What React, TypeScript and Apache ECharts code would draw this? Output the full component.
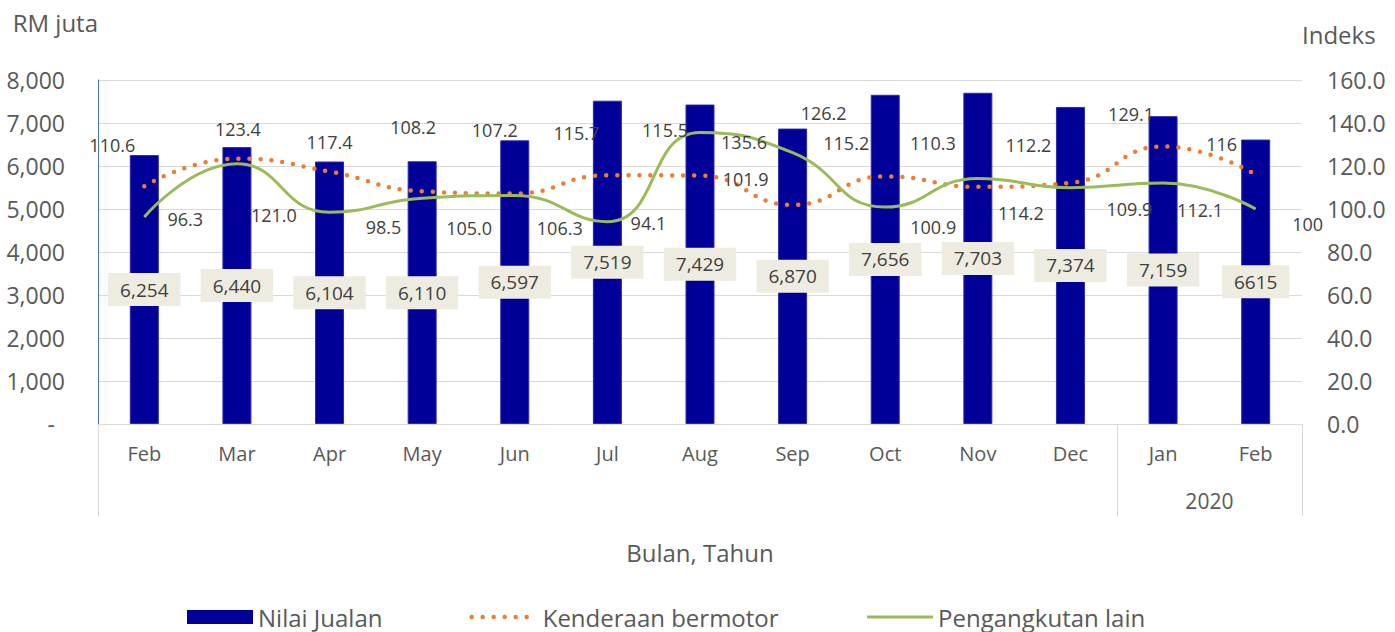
import React, { useEffect, useRef } from "react";
import * as echarts from "echarts";

const months = ["Feb", "Mar", "Apr", "May", "Jun", "Jul", "Aug", "Sep", "Oct", "Nov", "Dec", "Jan", "Feb"];
const yearGroupStarts = [0, 11];
const yearLabel = "2020";
const yearLabelAt = 12;

const sales = [6254, 6440, 6104, 6110, 6597, 7519, 7429, 6870, 7656, 7703, 7374, 7159, 6615];
const salesLabels = ["6,254", "6,440", "6,104", "6,110", "6,597", "7,519", "7,429", "6,870", "7,656", "7,703", "7,374", "7,159", "6615"];

const motor = [110.6, 123.4, 117.4, 108.2, 107.2, 115.7, 115.5, 101.9, 115.2, 110.3, 112.2, 129.1, 116];
const motorLabels = ["110.6", "123.4", "117.4", "108.2", "107.2", "115.7", "115.5", "101.9", "115.2", "110.3", "112.2", "129.1", "116"];

const other = [96.3, 121.0, 98.5, 105.0, 106.3, 94.1, 135.6, 126.2, 100.9, 114.2, 109.9, 112.1, 100];
const otherLabels = ["96.3", "121.0", "98.5", "105.0", "106.3", "94.1", "135.6", "126.2", "100.9", "114.2", "109.9", "112.1", "100"];

// label placement (pixel offsets from each point)
const motorLabelOffsets = [
  [-32, -41], [1, -30], [0, -30], [-9, -64], [-20, -64], [-31, -42], [-35, -46],
  [-47, -26], [-39, -33], [-45, -44], [-42, -38], [-32, -32], [-34, -31],
];
const otherLabelOffsets = [
  [41, 2], [37, 51], [54, 15], [47, 30], [45, 33], [41, 1], [44, 10],
  [31, -40], [48, 20], [43, 35], [59, 21], [37, 27], [52, 15],
];

const FONT = "Open Sans";
const TXT = "#595959";
const LBL = "#404040";

export default function App() {
  const ref = useRef<HTMLDivElement>(null);
  useEffect(() => {
    document.body.style.margin = "0";
    const chart = echarts.init(ref.current!, null, { renderer: "svg" });
    const option = {
      animation: false,
      textStyle: { fontFamily: FONT },
      grid: { left: 98, right: 93, top: 80, bottom: 208, containLabel: false },
      legend: {
        left: 182,
        top: 600,
        itemWidth: 66,
        itemHeight: 14,
        itemGap: 87,
        textStyle: { fontSize: 24, color: TXT, fontFamily: FONT },
        data: [
          { name: "Nilai Jualan", icon: "rect", itemStyle: { borderWidth: 0 } },
          {
            name: "Kenderaan bermotor",
            itemStyle: { opacity: 0 },
            lineStyle: { width: 4.5, type: [0, 11], cap: "round", color: "#ED7D31" },
          },
          {
            name: "Pengangkutan lain",
            itemStyle: { opacity: 0 },
            lineStyle: { width: 3, color: "#9BBB59" },
          },
        ],
      },
      xAxis: [
        {
          type: "category",
          data: months,
          boundaryGap: true,
          axisLine: { show: true, lineStyle: { color: "#d9d9d9", width: 1 } },
          axisTick: {
            show: true,
            length: 92,
            interval: (i: number) => yearGroupStarts.includes(i),
            lineStyle: { color: "#d9d9d9", width: 1 },
          },
          axisLabel: { fontSize: 20, color: TXT, margin: 19, fontFamily: FONT },
          name: "Bulan, Tahun",
          nameLocation: "middle",
          nameGap: 116,
          nameTextStyle: { fontSize: 24, color: TXT, fontFamily: FONT },
          splitLine: { show: false },
        },
        {
          type: "value",
          position: "bottom",
          min: 0,
          max: months.length,
          interval: 1,
          offset: 52,
          axisLine: { show: false },
          axisTick: { show: false },
          splitLine: { show: false },
          axisLabel: {
            fontSize: 21,
            color: TXT,
            margin: 14,
            fontFamily: FONT,
            formatter: (v: number) => (v === yearLabelAt ? yearLabel : ""),
          },
        },
      ],
      yAxis: [
        {
          type: "value",
          min: 0,
          max: 8000,
          interval: 1000,
          name: "RM juta",
          nameLocation: "end",
          nameGap: 46,
          nameTextStyle: { fontSize: 24, color: TXT, align: "right", fontFamily: FONT },
          axisLine: { show: true, lineStyle: { color: "#4472C4", width: 1 } },
          axisTick: { show: false },
          splitLine: { show: true, lineStyle: { color: "#d9d9d9", width: 1 } },
          axisLabel: {
            fontSize: 23,
            color: TXT,
            margin: 33,
            fontFamily: FONT,
            formatter: (v: number) => (v === 0 ? "{d|-}" : v.toLocaleString("en-US")),
            rich: { d: { fontSize: 23, color: TXT, padding: [0, 10, 0, 0], fontFamily: FONT } },
          },
        },
        {
          type: "value",
          min: 0,
          max: 160,
          interval: 20,
          name: "Indeks",
          nameLocation: "end",
          nameGap: 34,
          nameTextStyle: { fontSize: 24, color: TXT, align: "left", fontFamily: FONT },
          axisLine: { show: false },
          axisTick: { show: false },
          splitLine: { show: false },
          axisLabel: {
            fontSize: 23,
            color: TXT,
            margin: 25,
            fontFamily: FONT,
            formatter: (v: number) => v.toFixed(1),
          },
        },
      ],
      series: [
        {
          name: "Nilai Jualan",
          type: "bar",
          xAxisIndex: 0,
          yAxisIndex: 0,
          barWidth: 29,
          data: sales,
          itemStyle: { color: "#000099", borderColor: "#2b2bb0", borderWidth: 1 },
          label: {
            show: true,
            position: "inside",
            formatter: (p: any) => salesLabels[p.dataIndex],
            backgroundColor: "#EEECE1",
            padding: [8, 12, 6, 12],
            color: LBL,
            fontSize: 19,
            fontFamily: FONT,
          },
          z: 1,
        },
        {
          name: "Kenderaan bermotor",
          type: "line",
          xAxisIndex: 0,
          yAxisIndex: 1,
          smooth: true,
          symbol: "circle",
          symbolSize: 1,
          showSymbol: true,
          itemStyle: { color: "rgba(0,0,0,0)", borderWidth: 0 },
          lineStyle: { color: "#ED7D31", width: 4.5, type: [0, 11], cap: "round" },
          data: motor.map((v, i) => ({
            value: v,
            label: { offset: motorLabelOffsets[i] },
          })),
          label: {
            show: true,
            position: "inside",
            formatter: (p: any) => motorLabels[p.dataIndex],
            color: LBL,
            fontSize: 18,
            fontFamily: FONT,
          },
          z: 3,
        },
        {
          name: "Pengangkutan lain",
          type: "line",
          xAxisIndex: 0,
          yAxisIndex: 1,
          smooth: true,
          symbol: "circle",
          symbolSize: 1,
          showSymbol: true,
          itemStyle: { color: "rgba(0,0,0,0)", borderWidth: 0 },
          lineStyle: { color: "#9BBB59", width: 3 },
          data: other.map((v, i) => ({
            value: v,
            label: { offset: otherLabelOffsets[i] },
          })),
          label: {
            show: true,
            position: "inside",
            formatter: (p: any) => otherLabels[p.dataIndex],
            color: LBL,
            fontSize: 18,
            fontFamily: FONT,
          },
          z: 3,
        },
      ],
    };
    chart.setOption(option as any);
    return () => chart.dispose();
  }, []);
  return <div ref={ref} style={{ width: 1395, height: 632 }} />;
}
